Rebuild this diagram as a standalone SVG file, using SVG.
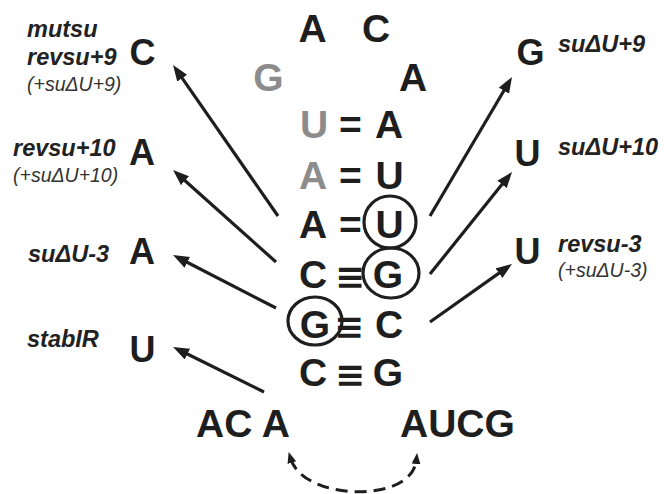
<svg xmlns="http://www.w3.org/2000/svg" width="664" height="494" viewBox="0 0 664 494">
  <style>
    .base { font-family: "Liberation Sans", Arial, "DejaVu Sans", sans-serif; font-weight: bold; font-size: 39px; fill: #1e1e1e; text-anchor: middle; }
    .gray { fill: #8c8c8c; }
    .bond { font-family: "Liberation Sans", "DejaVu Sans", sans-serif; font-weight: bold; font-size: 39px; fill: #1e1e1e; text-anchor: middle; }
    .triple { font-family: "DejaVu Sans", sans-serif; font-weight: bold; font-size: 36px; fill: #1e1e1e; text-anchor: middle; }
    .mut { font-family: "Liberation Sans", Arial, sans-serif; font-weight: bold; font-size: 36px; fill: #1e1e1e; text-anchor: middle; }
    .lbl { font-family: "Liberation Sans", Arial, sans-serif; font-weight: bold; font-style: italic; font-size: 23.5px; fill: #222; }
    .sub { font-family: "Liberation Sans", Arial, sans-serif; font-style: italic; font-size: 19.5px; fill: #333; }
    .ring { fill: none; stroke: #1e1e1e; stroke-width: 3.2; }
    .arrow { stroke: #1e1e1e; stroke-width: 3.2; fill: none; marker-end: url(#head); }
    .swap { stroke: #1e1e1e; stroke-width: 3; fill: none; stroke-dasharray: 12 7; marker-start: url(#small); marker-end: url(#small); }
  </style>
  <defs>
    <marker id="head" markerUnits="userSpaceOnUse" markerWidth="18" markerHeight="14" refX="4" refY="6" orient="auto">
      <path d="M0,0 L16,6 L0,12 z" fill="#1e1e1e"/>
    </marker>
    <marker id="small" markerUnits="userSpaceOnUse" markerWidth="12" markerHeight="10" refX="4" refY="4.5" orient="auto-start-reverse">
      <path d="M0,0 L11,4.5 L0,9 z" fill="#1e1e1e"/>
    </marker>
  </defs>

  <rect width="664" height="494" fill="#ffffff"/>

  <!-- hairpin loop -->
  <g id="loop">
    <text class="base" x="312.5" y="42">A</text>
    <text class="base" x="376" y="42">C</text>
    <text class="base gray" x="268.5" y="91">G</text>
    <text class="base" x="413" y="91">A</text>
  </g>

  <!-- stem base pairs -->
  <g id="pair1">
    <text class="base gray" x="314" y="138">U</text>
    <text class="bond" x="350.5" y="138">=</text>
    <text class="base" x="389" y="138">A</text>
  </g>
  <g id="pair2">
    <text class="base gray" x="313" y="189">A</text>
    <text class="bond" x="350.5" y="189">=</text>
    <text class="base" x="389.5" y="189">U</text>
  </g>
  <g id="pair3">
    <text class="base" x="313" y="238">A</text>
    <text class="bond" x="350.5" y="238">=</text>
    <text class="base" x="389.5" y="238">U</text>
    <ellipse class="ring" cx="390" cy="222" rx="26" ry="26"/>
  </g>
  <g id="pair4">
    <text class="base" x="313" y="288">C</text>
    <text class="triple" x="350" y="289">≡</text>
    <text class="base" x="388" y="288">G</text>
    <ellipse class="ring" cx="391" cy="273" rx="28" ry="25"/>
  </g>
  <g id="pair5">
    <text class="base" x="315" y="338">G</text>
    <text class="triple" x="349" y="339">≡</text>
    <text class="base" x="389" y="338">C</text>
    <ellipse class="ring" cx="315" cy="321" rx="27" ry="24"/>
  </g>
  <g id="pair6">
    <text class="base" x="313" y="386">C</text>
    <text class="triple" x="350" y="387">≡</text>
    <text class="base" x="388" y="386">G</text>
  </g>

  <!-- flanking sequence -->
  <g id="flank-left">
    <text class="base" x="196" y="437" style="text-anchor:start">AC A</text>
  </g>
  <g id="flank-right">
    <text class="base" x="400" y="437" style="text-anchor:start">AUCG</text>
  </g>

  <!-- substitutions, left side -->
  <g id="mut-c">
    <text class="mut" x="142.5" y="65">C</text>
    <text class="lbl" x="27" y="37">mutsu</text>
    <text class="lbl" x="27" y="65">revsu+9</text>
    <text class="sub" x="27" y="91">(+suΔU+9)</text>
  </g>
  <g id="mut-a10">
    <text class="mut" x="142" y="165">A</text>
    <text class="lbl" x="13" y="156">revsu+10</text>
    <text class="sub" x="13" y="182">(+suΔU+10)</text>
  </g>
  <g id="mut-a3">
    <text class="mut" x="142" y="264">A</text>
    <text class="lbl" x="28" y="262">suΔU-3</text>
  </g>
  <g id="mut-u">
    <text class="mut" x="142.5" y="362">U</text>
    <text class="lbl" x="27" y="347">stabIR</text>
  </g>

  <!-- substitutions, right side -->
  <g id="mut-g9">
    <text class="mut" x="530.5" y="65">G</text>
    <text class="lbl" x="558" y="52">suΔU+9</text>
  </g>
  <g id="mut-u10">
    <text class="mut" x="527.5" y="166">U</text>
    <text class="lbl" x="558" y="155">suΔU+10</text>
  </g>
  <g id="mut-u3">
    <text class="mut" x="527.5" y="264">U</text>
    <text class="lbl" x="558" y="252">revsu-3</text>
    <text class="sub" x="558" y="277">(+suΔU-3)</text>
  </g>

  <!-- connectors -->
  <g id="connectors">
    <line class="arrow" x1="278" y1="216" x2="179.9" y2="74.9"/>
    <line class="arrow" x1="276" y1="262" x2="182" y2="178"/>
    <line class="arrow" x1="276" y1="308" x2="183.7" y2="260.5"/>
    <line class="arrow" x1="264" y1="392" x2="183.8" y2="352.3"/>
    <line class="arrow" x1="430" y1="216" x2="505.9" y2="87.3"/>
    <line class="arrow" x1="430" y1="274" x2="504.5" y2="181.3"/>
    <line class="arrow" x1="430" y1="322" x2="502.2" y2="270.9"/>
    <path class="swap" d="M290.7,458.8 C303.5,501 412,504 416.4,460"/>
  </g>
</svg>
